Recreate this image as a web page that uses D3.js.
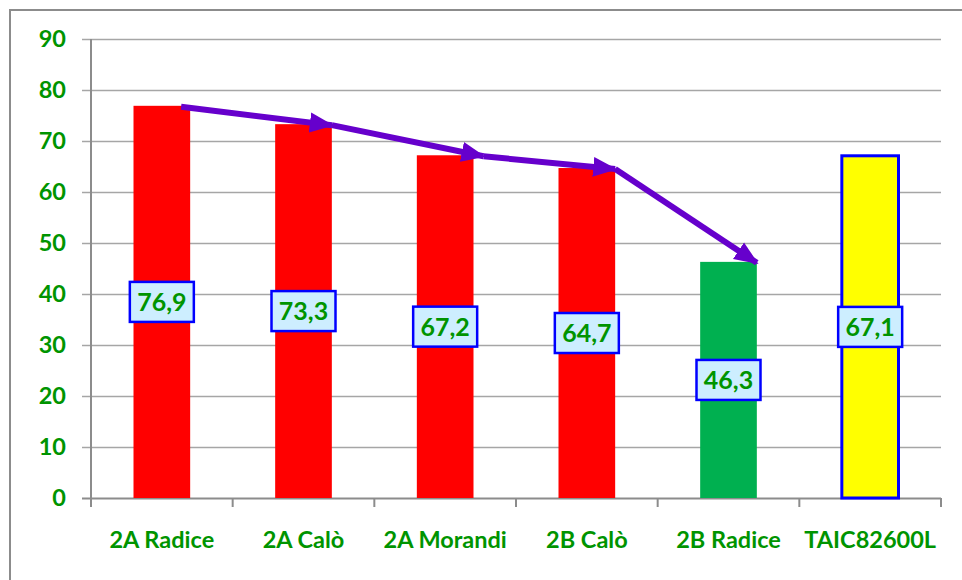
<!DOCTYPE html>
<html>
<head>
<meta charset="utf-8">
<script src="https://cdn.jsdelivr.net/npm/d3@7"></script>
<style>
  body { margin: 0; background: #fff; }
  text { font-family: Lato, "Open Sans", sans-serif; font-weight: bold; }
</style>
</head>
<body>
<svg id="chart"></svg>
<script>
const categories = ['2A Radice', '2A Calò', '2A Morandi', '2B Calò', '2B Radice', 'TAIC82600L'];
const values = [76.9, 73.3, 67.2, 64.7, 46.3, 67.1];
const barColors = ['#ff0000', '#ff0000', '#ff0000', '#ff0000', '#00b050', '#ffff00'];
const yTicks = [0, 10, 20, 30, 40, 50, 60, 70, 80, 90];
// the purple arrows run along the first five bars (class trend)
const trendCount = 5;

const width = 962, height = 580;
const margin = { top: 39, right: 21, bottom: 82, left: 91 };
const green = '#009400';

const svg = d3.select('#chart').attr('width', width).attr('height', height);

// outer chart frame
svg.append('rect')
  .attr('x', 10).attr('y', 10)
  .attr('width', width + 20).attr('height', height + 20)
  .attr('fill', 'none').attr('stroke', '#8c8c8c').attr('stroke-width', 2);

const x = d3.scaleBand()
  .domain(categories)
  .range([margin.left, width - margin.right])
  .paddingInner(0.6)
  .paddingOuter(0.3);

const y = d3.scaleLinear()
  .domain([0, 90])
  .range([height - margin.bottom, margin.top]);

const gridLeft = margin.left - 9;

// gridlines + y labels
const yAxis = d3.axisLeft(y)
  .tickValues(yTicks)
  .tickSize(-(width - margin.right - gridLeft))
  .tickPadding(16)
  .tickFormat(d3.format('d'));

const yG = svg.append('g')
  .attr('transform', `translate(${gridLeft},0)`)
  .call(yAxis);
yG.select('.domain').remove();
yG.selectAll('line').attr('stroke', '#a6a6a6').attr('stroke-width', 1.5);
yG.selectAll('text').attr('fill', green).attr('font-size', 23.5);
yG.selectAll('.tick').filter(d => d === 0).select('line').attr('stroke', '#8c8c8c').attr('stroke-width', 2);

// y axis line
svg.append('line')
  .attr('x1', margin.left).attr('x2', margin.left)
  .attr('y1', margin.top).attr('y2', y(0) + 9)
  .attr('stroke', '#8c8c8c').attr('stroke-width', 2);

// x ticks at band boundaries
const bounds = d3.range(categories.length + 1).map(i => x.range()[0] + i * x.step());
svg.append('g').selectAll('line')
  .data(bounds)
  .join('line')
  .attr('x1', d => d).attr('x2', d => d)
  .attr('y1', y(0)).attr('y2', y(0) + 9)
  .attr('stroke', '#8c8c8c').attr('stroke-width', 2);

// x labels
const xG = svg.append('g')
  .attr('transform', `translate(0,${y(0)})`)
  .call(d3.axisBottom(x).tickSize(0).tickPadding(33));
xG.select('.domain').remove();
xG.selectAll('text').attr('fill', green).attr('font-size', 23.5);

// bars
svg.append('g').selectAll('rect')
  .data(values)
  .join('rect')
  .attr('x', (d, i) => x(categories[i]))
  .attr('y', d => y(d))
  .attr('width', x.bandwidth())
  .attr('height', d => y(0) - y(d))
  .attr('fill', (d, i) => barColors[i])
  .attr('stroke', (d, i) => i === categories.length - 1 ? '#0000ff' : 'none')
  .attr('stroke-width', 3);

// arrows
svg.append('defs').append('marker')
  .attr('id', 'head')
  .attr('markerUnits', 'userSpaceOnUse')
  .attr('markerWidth', 24).attr('markerHeight', 24)
  .attr('viewBox', '0 -12 24 24')
  .attr('refX', 22).attr('refY', 0)
  .attr('orient', 'auto')
  .append('path')
  .attr('d', 'M0,-10L24,0L0,10Z')
  .attr('fill', '#6600cc');

const pts = values.slice(0, trendCount).map((v, i) => [
  i === 0 ? x(categories[i]) + x.bandwidth() * 0.84 : x(categories[i]) + x.bandwidth() + (i === 2 ? 10 : 0),
  y(v) + 1
]);
svg.append('g').selectAll('line')
  .data(d3.pairs(pts))
  .join('line')
  .attr('x1', d => d[0][0]).attr('y1', d => d[0][1])
  .attr('x2', d => d[1][0]).attr('y2', d => d[1][1])
  .attr('stroke', '#6600cc')
  .attr('stroke-width', 6)
  .attr('marker-end', 'url(#head)');

// value labels
const lab = svg.append('g').selectAll('g')
  .data(values)
  .join('g')
  .attr('transform', (d, i) => `translate(${x(categories[i]) + x.bandwidth() / 2},${(y(d) + y(0)) / 2})`);
lab.append('rect')
  .attr('x', -32).attr('y', -20)
  .attr('width', 64).attr('height', 40)
  .attr('fill', '#cdeeff')
  .attr('stroke', '#0000ff')
  .attr('stroke-width', 2.5);
lab.append('text')
  .attr('text-anchor', 'middle')
  .attr('dy', '0.36em')
  .attr('fill', green)
  .attr('font-size', 25)
  .text(d => d3.format('.1f')(d).replace('.', ','));
</script>
</body>
</html>
